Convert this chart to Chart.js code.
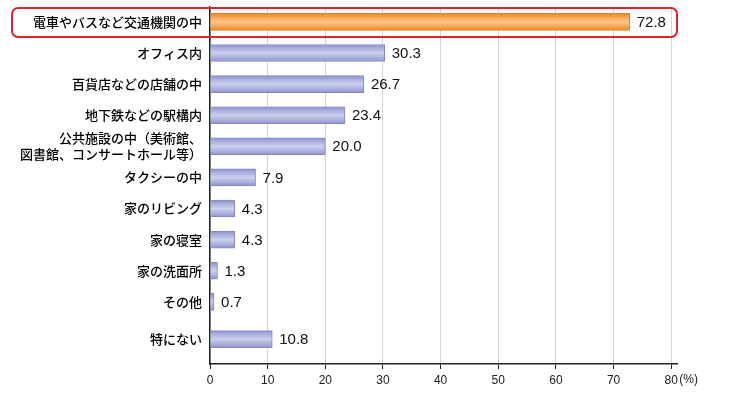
<!DOCTYPE html>
<html>
<head>
<meta charset="utf-8">
<script src="https://cdn.jsdelivr.net/npm/chart.js@4.4.1/dist/chart.umd.min.js"></script>
<style>
  body { margin: 0; background: #fff; }
  #wrap { width: 735px; height: 393px; }
</style>
</head>
<body>
<div id="wrap"><canvas id="myChart"></canvas></div>
<script>
var labels = [
  "電車やバスなど交通機関の中",
  "オフィス内",
  "百貨店などの店舗の中",
  "地下鉄などの駅構内",
  ["公共施設の中（美術館、", "図書館、コンサートホール等）"],
  "タクシーの中",
  "家のリビング",
  "家の寝室",
  "家の洗面所",
  "その他",
  "特にない"
];
var values = [72.8, 30.3, 26.7, 23.4, 20.0, 7.9, 4.3, 4.3, 1.3, 0.7, 10.8];
// row slots; "特にない" sits a little further down
var rows = [0, 1, 2, 3, 4, 5, 6, 7, 8, 9, 10.2];
var xTicks = [0, 10, 20, 30, 40, 50, 60, 70, 80];

var points = values.map(function (v, i) { return { x: v, y: rows[i] }; });

function barFill(c) {
  var i = c.dataIndex;
  var top = i === 0;
  var y = c.chart.scales && c.chart.scales.y;
  if (i === undefined || !y) return top ? "#f39a3c" : "#a6acdf";
  var py = y.getPixelForValue(rows[i]);
  if (!isFinite(py)) return top ? "#f39a3c" : "#a6acdf";
  var g = c.chart.ctx.createLinearGradient(0, py - 9, 0, py + 9);
  if (top) {
    g.addColorStop(0, "#ee8420");
    g.addColorStop(0.5, "#fcc58a");
    g.addColorStop(1, "#ee8420");
  } else {
    g.addColorStop(0, "#8a91cf");
    g.addColorStop(0.5, "#cdd0ee");
    g.addColorStop(1, "#8a91cf");
  }
  return g;
}

var extras = {
  id: "extras",
  afterDatasetsDraw: function (chart) {
    var ctx = chart.ctx;
    var xs = chart.scales.x, ys = chart.scales.y;
    ctx.save();
    // value labels
    ctx.fillStyle = "#111";
    ctx.font = "15px 'Liberation Sans', Arial, sans-serif";
    ctx.textBaseline = "middle";
    ctx.textAlign = "left";
    values.forEach(function (v, i) {
      ctx.fillText(v.toFixed(1), xs.getPixelForValue(v) + 7, ys.getPixelForValue(rows[i]) + 1);
    });
    // highlight box round first row
    var cy = ys.getPixelForValue(rows[0]);
    ctx.strokeStyle = "#e3202b";
    ctx.lineWidth = 2;
    ctx.beginPath();
    ctx.roundRect(12, cy - 14, xs.right - 12, 29, 6);
    ctx.stroke();
    // unit
    ctx.fillStyle = "#222";
    ctx.font = "12px 'Liberation Sans', Arial, sans-serif";
    ctx.textAlign = "left";
    ctx.textBaseline = "top";
    ctx.fillText("(%)", xs.getPixelForValue(80) + 8, xs.top + 10);
    ctx.restore();
  }
};

new Chart("myChart", {
  type: "bar",
  data: {
    datasets: [
      {
        data: points,
        backgroundColor: barFill,
        borderColor: function (c) { return c.dataIndex === 0 ? "#e8801a" : "#8088c8"; },
        borderWidth: 1,
        barThickness: 17,
      },
    ],
  },
  plugins: [extras],
  options: {
    indexAxis: "y",
    responsive: true,
    maintainAspectRatio: false,
    animation: false,
    layout: { padding: { top: 7, right: 58, left: 0, bottom: 0 } },
    plugins: {
      legend: { display: false },
      tooltip: { enabled: false },
    },
    scales: {
      x: {
        type: "linear",
        min: 0,
        max: 81,
        afterBuildTicks: function (axis) {
          axis.ticks = xTicks.map(function (v) { return { value: v }; });
        },
        afterFit: function (axis) { axis.height = 29; },
        grid: {
          color: "#d4d4d4",
          lineWidth: 1,
          tickColor: "#222",
          tickLength: 5,
        },
        border: { color: "#222", width: 1.5 },
        ticks: {
          color: "#222",
          padding: 4,
          font: { family: "'Liberation Sans', Arial, sans-serif", size: 12 },
        },
      },
      y: {
        type: "linear",
        reverse: true,
        offset: false,
        min: -0.48,
        max: 11,
        afterBuildTicks: function (axis) {
          axis.ticks = rows.map(function (v) { return { value: v }; });
        },
        afterFit: function (axis) {
          axis.width = 210;
          axis.paddingTop = 0;
          axis.paddingBottom = 0;
        },
        grid: { display: false, drawTicks: false },
        border: { color: "#222", width: 1.5 },
        ticks: {
          autoSkip: false,
          color: "#000",
          padding: 8,
          font: { family: "'Noto Sans CJK JP', sans-serif", size: 13, weight: 500 },
          callback: function (value) { return labels[rows.indexOf(value)]; },
        },
      },
    },
  },
});
</script>
</body>
</html>
